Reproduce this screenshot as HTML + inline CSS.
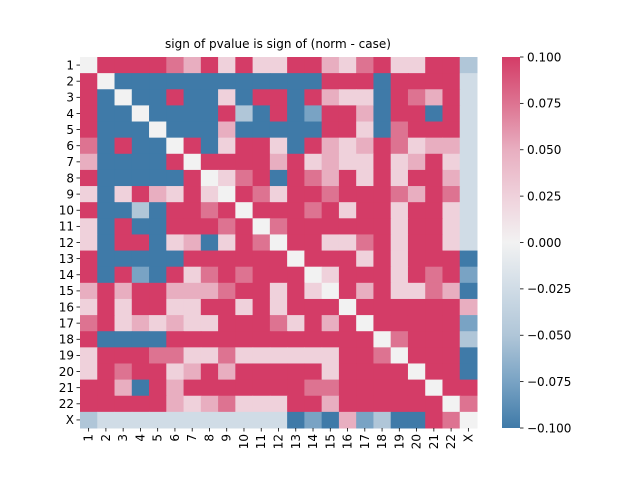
<!DOCTYPE html>
<html><head><meta charset="utf-8"><style>
body{margin:0;background:#fff;}
svg{display:block;font-family:"DejaVu Sans","Liberation Sans",sans-serif;}
</style></head><body>
<svg id="chart" width="640" height="480" viewBox="0 0 640 480">
<defs><linearGradient id="cg" x1="0" y1="0" x2="0" y2="1">
<stop offset="0" stop-color="#d43c67"/><stop offset="0.125" stop-color="#dd7391"/><stop offset="0.25" stop-color="#e8aec0"/><stop offset="0.375" stop-color="#efd1db"/><stop offset="0.5" stop-color="#f2f2f2"/><stop offset="0.625" stop-color="#d0dce6"/><stop offset="0.75" stop-color="#b0c6d8"/><stop offset="0.875" stop-color="#79a3c4"/><stop offset="1" stop-color="#3f7aa8"/>
</linearGradient></defs>
<text x="278" y="48" font-size="12" text-anchor="middle">sign of pvalue is sign of (norm - case)</text>
<g id="cells"></g>
<g id="axes"></g>
<rect x="502" y="57" width="18" height="371" fill="url(#cg)"/>
<g id="cbticks"></g>
</svg>
<script>
const labels = ["1","2","3","4","5","6","7","8","9","10","11","12","13","14","15","16","17","18","19","20","21","22","X"];
const rowCodes = [
"WRRRRMLRPRPPRRLPMRPPRRc",
"RWBBBBBBBBBBBBRRRBRRRRd",
"RBWBBRBBPBRRBRLPPBRMLRd",
"RBBWBBBBRcBRBbRRLBRRBRd",
"RBBBWBBBLBBBBBRRPBMRRRd",
"MBRBBWRBPRRPBRLPLRMPLLd",
"LBBBBRWRRRRLRPLPPRPLRPd",
"RBBBBBRWPMRBRMLRPRPRRLd",
"PBPRLPRPWRMPRRMRRRMLRMd",
"RBBcBRRMRWRRRMRPRRPRRPd",
"PBRBBRRRMRWMRRRRRRPRRPd",
"PBRRBPLBPRMWRRPPMRPRRPd",
"RBBBBBRRRRRRWRRRPRPRRRB",
"RBRbBRPMRMRRRWPRRRPRMRb",
"LRLRRLLLMRRPRPWRLRPPMLB",
"PRPRRPPRRPRPRRRWRRRRRRL",
"MRPLPLPPRRRMPRLRWRRRRRb",
"RBBBBRRRRRRRRRRRRWMRRRc",
"PRRRMMPPMPPPPPPRRMWRRRB",
"PRMRRPLRLRRRRRPRRRRWRRB",
"RRLBRLRRRRRRRMMRRRRRWRR",
"RRRRRLPLMPPPRRLRRRRRRWM",
"cdddddddddddBbBLbcBBRMW"];
const codeVal = {R:0.1,M:0.075,L:0.05,P:0.025,W:0,d:-0.025,c:-0.05,b:-0.075,B:-0.1};
const values = rowCodes.map(r => r.split("").map(ch => codeVal[ch]));
const cbTicks = [0.1,0.075,0.05,0.025,0,-0.025,-0.05,-0.075,-0.1];
const cbTickLabels = ["0.100","0.075","0.050","0.025","0.000","\u22120.025","\u22120.050","\u22120.075","\u22120.100"];

const X0=80,X1=477,Y0=57,Y1=428,n=labels.length;
const cw=(X1-X0)/n,ch=(Y1-Y0)/n;
const xPos=i=>X0+i*cw, yPos=j=>Y0+j*ch;
const vY=v=>Y0+(0.1-v)/0.2*(Y1-Y0);
const stops=[[-0.1,[63,122,168]],[-0.075,[121,163,196]],[-0.05,[176,198,216]],[-0.025,[208,220,230]],[0,[242,242,242]],[0.025,[239,209,219]],[0.05,[232,174,192]],[0.075,[221,115,145]],[0.1,[212,60,103]]];
function color(v){v=Math.max(-0.1,Math.min(0.1,v));for(let k=0;k<stops.length-1;k++){const[a,ca]=stops[k],[b,cb]=stops[k+1];if(v<=b){const t=(v-a)/(b-a);return"rgb("+ca.map((c,i)=>Math.round(c+(cb[i]-c)*t)).join(",")+")";}}return"rgb(212,60,103)";}
const NS="http://www.w3.org/2000/svg";
function mk(t,a,p){const e=document.createElementNS(NS,t);for(const k in a)e.setAttribute(k,a[k]);p.appendChild(e);return e;}
const cells=document.getElementById("cells"),axes=document.getElementById("axes"),cb=document.getElementById("cbticks");
values.forEach((row,j)=>row.forEach((v,i)=>{
 const r=mk("rect",{x:xPos(i),y:yPos(j),width:cw+0.5,height:ch+0.5,fill:color(v)},cells);
 
 
}));
labels.forEach((l,i)=>{
 const cx=xPos(i)+cw/2,cy=yPos(i)+ch/2;
 mk("line",{x1:cx,y1:Y1,x2:cx,y2:Y1+3.5,stroke:"#000","stroke-width":0.8},axes);
 const tx=mk("text",{x:0,y:0,"font-size":"12","text-anchor":"end",transform:`translate(${cx+4},${Y1+6}) rotate(-90)`},axes);
 tx.textContent=l;
 
 
 mk("line",{x1:X0-3.5,y1:cy,x2:X0,y2:cy,stroke:"#000","stroke-width":0.8},axes);
 const ty=mk("text",{x:X0-6,y:cy+4.3,"font-size":"12","text-anchor":"end"},axes);
 ty.textContent=l;
 
 
});
cbTicks.forEach((v,k)=>{
 const y=vY(v);
 mk("line",{x1:520,y1:y,x2:523.5,y2:y,stroke:"#000","stroke-width":0.8},cb);
 const t=mk("text",{x:527,y:y+4.3,"font-size":"12"},cb);
 t.textContent=cbTickLabels[k];
 
 
});
</script>
</body></html>
